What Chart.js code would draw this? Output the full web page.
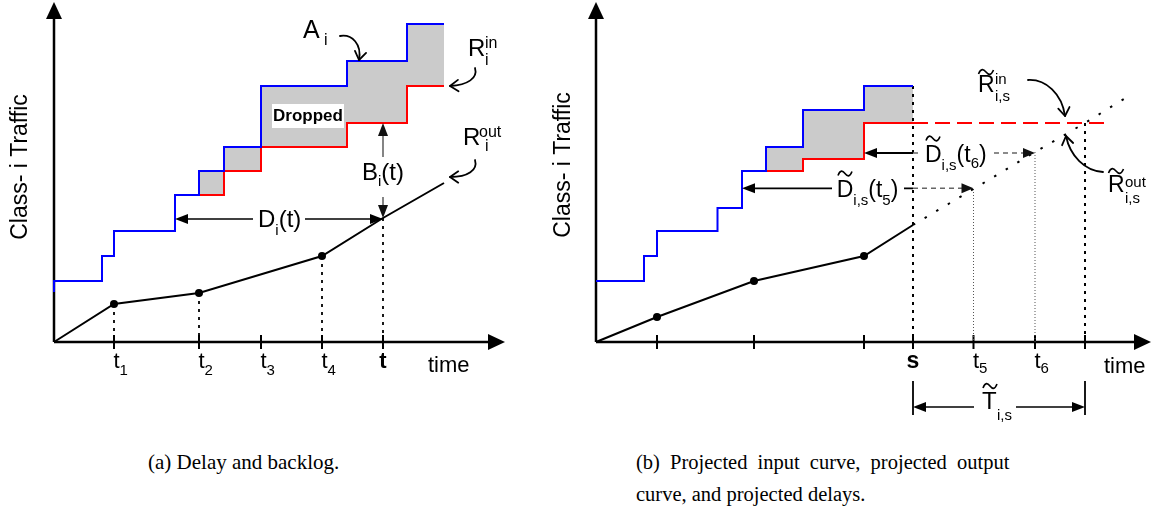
<!DOCTYPE html>
<html>
<head>
<meta charset="utf-8">
<script src="https://cdn.jsdelivr.net/npm/chart.js@4.4.1/dist/chart.umd.min.js"></script>
<style>
html,body{margin:0;padding:0;background:#fff;}
body{width:1155px;height:517px;position:relative;overflow:hidden;}
canvas{position:absolute;top:0;}
#ca{left:0;}
#cb{left:540px;}
.cap{position:absolute;top:446px;font-family:"Liberation Serif","Times New Roman",serif;font-size:21px;line-height:32px;color:#000;white-space:nowrap;}
</style>
</head>
<body>
<canvas id="ca" width="540" height="430"></canvas>
<canvas id="cb" width="615" height="430"></canvas>
<div class="cap" style="left:148px;">(a) Delay and backlog.</div>
<div class="cap" style="left:636px;font-size:20.5px;"><span style="word-spacing:5px;">(b) Projected input curve, projected output</span><br>curve, and projected delays.</div>
<script>
// ---------- panel (a): delay and backlog ----------
const aBlueX = [0, 0, 48, 60, 121, 145, 170, 207, 293, 353, 390];      // A_i (arrivals), step curve
const aBlueY = [50, 61, 86, 111, 147, 171, 195, 256, 281, 318, 318];
const aRedX  = [145, 170, 207, 293, 353, 390];                           // R_i^in, step curve
const aRedY  = [147, 171, 195, 219, 256, 256];
const aOutX  = [0, 60, 145, 268, 329, 390];                              // R_i^out
const aOutY  = [0, 38, 49, 86, 124, 159];
const aTickX = [60, 145, 207, 268, 329];
const aTickLabels = ['t1', 't2', 't3', 't4', 't'];

// ---------- panel (b): projections ----------
const bBlueX = [0, 48, 61, 121.5, 146, 170, 207, 268, 317];
const bBlueY = [61, 86, 111, 134, 171, 195, 232, 256, 256];
const bRedX  = [170, 207, 268, 317];
const bRedY  = [171, 183, 219, 219];
const bRedProjX = [317, 510];
const bRedProjY = [219, 219];
const bOutX  = [0, 61, 158, 268, 317];
const bOutY  = [0, 25, 61, 86, 117];
const bProjX = [317, 377.5, 439, 489, 531];
const bProjY = [117, 153, 190, 219, 245];
const bTickX = [61, 158, 268, 317, 377.5, 439, 489];
const bTickLabels = ['', '', '', 's', 't5', 't6', ''];

const FONT = '"Liberation Sans", Arial, Helvetica, sans-serif';

function pts(xs, ys) { return xs.map((x, i) => ({x: x, y: ys[i]})); }
function expandSteps(xs, ys) {
  const out = [{x: xs[0], y: ys[0]}];
  for (let i = 1; i < xs.length; i++) out.push({x: xs[i], y: ys[i - 1]}, {x: xs[i], y: ys[i]});
  return out;
}
function backlogShape(topX, topY, botX, botY) {
  const x0 = botX[0];
  const top = expandSteps(topX, topY).filter(p => p.x >= x0);
  const bot = expandSteps(botX, botY).reverse();
  return top.concat(bot);
}
function line(points, o) {
  return Object.assign({data: points, showLine: true, pointRadius: 0, pointHoverRadius: 0,
    borderColor: '#000', borderWidth: 2, backgroundColor: '#000', fill: false, tension: 0, order: 3}, o);
}
function vline(x, y0, y1, o) { return line([{x: x, y: y0}, {x: x, y: y1}], o); }

// ---------- drawing helpers (all positions through the chart scales) ----------
function seg(ctx, P, x1, y1, x2, y2, color, w, dash) {
  const a = P(x1, y1), b = P(x2, y2);
  ctx.save(); ctx.strokeStyle = color || '#000'; ctx.lineWidth = w || 2; ctx.setLineDash(dash || []);
  ctx.beginPath(); ctx.moveTo(a[0], a[1]); ctx.lineTo(b[0], b[1]); ctx.stroke(); ctx.restore();
}
function head(ctx, P, x, y, dir, len, half, color) {
  len = len || 13; half = half || 5;
  const p = P(x, y), c = Math.cos(dir), s = Math.sin(dir);
  ctx.save(); ctx.fillStyle = color || '#000'; ctx.beginPath();
  ctx.moveTo(p[0], p[1]);
  ctx.lineTo(p[0] - len * c - half * s, p[1] - len * s + half * c);
  ctx.lineTo(p[0] - len * c + half * s, p[1] - len * s - half * c);
  ctx.closePath(); ctx.fill(); ctx.restore();
}
function curveArrow(ctx, P, c) {
  const q = c.map(p => P(p[0], p[1]));
  ctx.save(); ctx.strokeStyle = '#000'; ctx.lineWidth = 1.8; ctx.lineCap = 'round'; ctx.lineJoin = 'round';
  ctx.beginPath(); ctx.moveTo(q[0][0], q[0][1]);
  ctx.bezierCurveTo(q[1][0], q[1][1], q[2][0], q[2][1], q[3][0], q[3][1]); ctx.stroke();
  const ang = Math.atan2(q[3][1] - q[2][1], q[3][0] - q[2][0]), len = 10, spr = 0.6;
  ctx.beginPath();
  ctx.moveTo(q[3][0] - len * Math.cos(ang - spr), q[3][1] - len * Math.sin(ang - spr));
  ctx.lineTo(q[3][0], q[3][1]);
  ctx.lineTo(q[3][0] - len * Math.cos(ang + spr), q[3][1] - len * Math.sin(ang + spr));
  ctx.stroke(); ctx.restore();
}
function text(ctx, P, x, y, s, size, o) {
  o = o || {};
  const p = P(x, y);
  ctx.save(); ctx.font = (o.bold ? 'bold ' : '') + size + 'px ' + FONT; ctx.fillStyle = '#000';
  ctx.textAlign = o.align || 'left'; ctx.textBaseline = o.base || 'alphabetic';
  ctx.fillText(s, p[0], p[1]); ctx.restore();
}
function seqText(ctx, P, x, y, parts) {
  const p = P(x, y); let px = p[0];
  ctx.save(); ctx.fillStyle = '#000'; ctx.textAlign = 'left'; ctx.textBaseline = 'alphabetic';
  for (const part of parts) {
    ctx.font = (part[3] ? 'bold ' : '') + part[1] + 'px ' + FONT;
    ctx.fillText(part[0], px, p[1] + (part[2] || 0));
    px += ctx.measureText(part[0]).width;
  }
  ctx.restore();
}
function tilde(ctx, P, x, y, w) {
  w = w || 14;
  const p = P(x, y), cx = p[0], cy = p[1];
  ctx.save(); ctx.strokeStyle = '#000'; ctx.lineWidth = 1.6; ctx.beginPath();
  ctx.moveTo(cx - w / 2, cy + 2);
  ctx.bezierCurveTo(cx - w / 3, cy - 4, cx - w / 6, cy - 3, cx, cy);
  ctx.bezierCurveTo(cx + w / 6, cy + 3, cx + w / 3, cy + 4, cx + w / 2, cy - 2);
  ctx.stroke(); ctx.restore();
}
function whiteRect(ctx, P, x1, y1, x2, y2) {
  const a = P(x1, y1), b = P(x2, y2);
  ctx.save(); ctx.fillStyle = '#fff';
  ctx.fillRect(Math.min(a[0], b[0]), Math.min(a[1], b[1]), Math.abs(b[0] - a[0]), Math.abs(b[1] - a[1]));
  ctx.restore();
}
function vText(ctx, P, x, y, s, size) {
  const p = P(x, y);
  ctx.save(); ctx.translate(p[0], p[1]); ctx.rotate(-Math.PI / 2);
  ctx.font = size + 'px ' + FONT; ctx.textAlign = 'center'; ctx.fillStyle = '#000';
  ctx.fillText(s, 0, 0); ctx.restore();
}
function axes(ctx, P, xTip, yTip, ticks) {
  seg(ctx, P, 0, 0, xTip - 12, 0, '#000', 2.5);
  head(ctx, P, xTip, 0, 0, 17, 8);
  seg(ctx, P, 0, 0, 0, yTip - 12, '#000', 2.5);
  head(ctx, P, 0, yTip, -Math.PI / 2, 17, 8);
  ctx.save(); ctx.strokeStyle = '#000'; ctx.lineWidth = 2;
  ticks.forEach(x => { const p = P(x, 0); ctx.beginPath(); ctx.moveTo(p[0], p[1] - 7); ctx.lineTo(p[0], p[1] + 7); ctx.stroke(); });
  ctx.restore();
}
function tickLabels(ctx, P, xs, labels, subDy, boldSize) {
  xs.forEach((x, i) => {
    const lab = labels[i];
    if (!lab) return;
    if (lab.length === 1) text(ctx, P, x, -26, lab, boldSize, {bold: true, align: 'center'});
    else seqText(ctx, P, x - 0.5, -26, [['t', 22], [lab.slice(1), 15, subDy]]);
  });
}

function makeChart(id, xmin, xmax, datasets, before, after) {
  return new Chart(document.getElementById(id), {
    type: 'scatter',
    data: {datasets: datasets},
    options: {
      responsive: false, animation: false, devicePixelRatio: 1, events: [],
      layout: {padding: 0},
      plugins: {legend: {display: false}, tooltip: {enabled: false}},
      scales: {
        x: {type: 'linear', display: false, min: xmin, max: xmax},
        y: {type: 'linear', display: false, min: -88, max: 342}
      }
    },
    plugins: [{
      id: 'decor_' + id,
      beforeDatasetsDraw(chart) { draw(chart, before); },
      afterDatasetsDraw(chart) { draw(chart, after); }
    }]
  });
}
function draw(chart, fn) {
  const ctx = chart.ctx, sx = chart.scales.x, sy = chart.scales.y;
  const P = (x, y) => [sx.getPixelForValue(x), sy.getPixelForValue(y)];
  ctx.save(); fn(ctx, P); ctx.restore();
}

// ---------- chart (a) ----------
const aSets = [
  line(pts(aOutX, aOutY), {pointRadius: [0, 4, 4, 4, 0, 0], pointBackgroundColor: '#000', pointBorderWidth: 0, order: 1}),
  line(pts(aBlueX, aBlueY), {borderColor: '#0000ff', stepped: 'before', order: 2}),
  line(pts(aRedX, aRedY), {borderColor: '#ff0000', stepped: 'before', order: 2}),
  line(backlogShape(aBlueX, aBlueY, aRedX, aRedY), {fill: 'shape', backgroundColor: '#cbcbcb', borderColor: 'rgba(0,0,0,0)', borderWidth: 0, order: 9})
];
for (let i = 1; i <= 4; i++) aSets.push(vline(aOutX[i], aOutY[i], 0, {borderDash: [3, 5], borderWidth: 1.8, order: 5}));

makeChart('ca', -54, 486, aSets,
  (ctx, P) => { axes(ctx, P, 451, 340, aTickX); },
  (ctx, P) => {
    // Dropped box
    whiteRect(ctx, P, 218, 238, 290, 214);
    text(ctx, P, 254, 226, 'Dropped', 17, {bold: true, align: 'center', base: 'middle'});
    // A_i
    text(ctx, P, 249, 304, 'A', 25);
    text(ctx, P, 270, 297, 'i', 16);
    curveArrow(ctx, P, [[286, 306], [298, 308], [308, 298], [305, 282]]);
    // R_i^in
    text(ctx, P, 414, 286, 'R', 24); text(ctx, P, 431, 294, 'in', 16); text(ctx, P, 431, 277, 'i', 16);
    curveArrow(ctx, P, [[421, 274], [424, 264], [414, 257], [396, 256]]);
    // R_i^out
    text(ctx, P, 409, 197, 'R', 24); text(ctx, P, 425, 205, 'out', 16); text(ctx, P, 431, 191, 'i', 16);
    curveArrow(ctx, P, [[421, 182], [424, 172], [414, 165], [396, 165]]);
    // B_i(t)
    const xt = aTickX[4];
    seg(ctx, P, xt, aOutY[4] + 6, xt, aRedY[3] - 6, '#666', 1.6);
    head(ctx, P, xt, aRedY[3], -Math.PI / 2, 13, 5, '#111');
    head(ctx, P, xt, aOutY[4], Math.PI / 2, 13, 5, '#111');
    whiteRect(ctx, P, 303, 185, 354, 145);
    seqText(ctx, P, 308, 162.5, [['B', 24], ['i', 15, 6.5], ['(t)', 24]]);
    // D_i(t)
    const yd = 123;
    seg(ctx, P, aBlueX[4] + 6, yd, xt - 6, yd, '#000', 1.6);
    head(ctx, P, aBlueX[4], yd, Math.PI, 13, 5);
    head(ctx, P, xt, yd, 0, 13, 5);
    whiteRect(ctx, P, 199, 136, 251, 102);
    seqText(ctx, P, 204, 115.3, [['D', 24], ['i', 15, 8], ['(t)', 24]]);
    // axis texts
    tickLabels(ctx, P, aTickX, aTickLabels, 7, 22);
    text(ctx, P, 374, -30, 'time', 22);
    vText(ctx, P, -27, 175, 'Class- i Traffic', 23);
  });

// ---------- chart (b) ----------
const bSets = [
  line(pts(bOutX, bOutY), {pointRadius: [0, 4, 4, 4, 0], pointBackgroundColor: '#000', pointBorderWidth: 0, order: 1}),
  line(pts(bProjX, bProjY), {borderDash: [2.5, 11], borderWidth: 2, order: 1}),
  line(pts(bBlueX, bBlueY), {borderColor: '#0000ff', stepped: 'before', order: 2}),
  line(pts(bRedX, bRedY), {borderColor: '#ff0000', stepped: 'before', order: 2}),
  line(pts(bRedProjX, bRedProjY), {borderColor: '#ff0000', borderDash: [15, 7], order: 2}),
  line(backlogShape(bBlueX, bBlueY, bRedX, bRedY), {fill: 'shape', backgroundColor: '#cbcbcb', borderColor: 'rgba(0,0,0,0)', borderWidth: 0, order: 9}),
  vline(bTickX[3], bBlueY[bBlueY.length - 1], 0, {borderDash: [3, 5], borderWidth: 2, order: 5}),
  vline(bProjX[3], bProjY[3], 0, {borderDash: [3, 5], borderWidth: 2, order: 5}),
  vline(bProjX[1], bProjY[1], 0, {borderDash: [1, 2], borderWidth: 1, borderColor: '#555', order: 5}),
  vline(bProjX[2], bProjY[2], 0, {borderDash: [1, 2], borderWidth: 1, borderColor: '#555', order: 5})
];

makeChart('cb', -56, 559, bSets,
  (ctx, P) => { axes(ctx, P, 555, 340, bTickX); },
  (ctx, P) => {
    const s = bTickX[3];
    // D~(t6)
    const y6 = 189;
    seg(ctx, P, bRedX[2] + 6, y6, s, y6, '#000', 1.8);
    seg(ctx, P, s, y6, bProjX[2] - 8, y6, '#666', 1.6, [5, 4]);
    head(ctx, P, bRedX[2], y6, Math.PI, 13, 5);
    head(ctx, P, bProjX[2], y6, 0, 12, 5, '#111');
    whiteRect(ctx, P, 325, 209, 394, 169);
    seqText(ctx, P, 329, 180.3, [['D', 23], ['i,s', 15, 8], ['(t', 23], ['6', 15, 6], [')', 23]]);
    tilde(ctx, P, 337, 203.5, 14);
    // D~(t5)
    const y5 = 153.7;
    seg(ctx, P, bBlueX[4] + 6, y5, s, y5, '#000', 1.8);
    seg(ctx, P, s, y5, bProjX[1] - 8, y5, '#666', 1.6, [5, 4]);
    head(ctx, P, bBlueX[4], y5, Math.PI, 13, 5);
    head(ctx, P, bProjX[1], y5, 0, 12, 5, '#111');
    whiteRect(ctx, P, 236, 176, 308, 132);
    seqText(ctx, P, 240.7, 145.3, [['D', 23], ['i,s', 15, 8], ['(t', 23], ['5', 15, 8], [')', 23]]);
    tilde(ctx, P, 249, 168.5, 14);
    // R~in
    text(ctx, P, 382, 250, 'R', 23); text(ctx, P, 399, 258, 'in', 15); text(ctx, P, 399, 241, 'i,s', 15);
    tilde(ctx, P, 390, 270, 15);
    curveArrow(ctx, P, [[432, 262], [450, 263], [466, 248], [469, 226]]);
    // R~out
    text(ctx, P, 512, 150, 'R', 23); text(ctx, P, 529, 155, 'out', 15); text(ctx, P, 529, 139, 'i,s', 15);
    tilde(ctx, P, 520, 171, 15);
    curveArrow(ctx, P, [[507, 170], [489, 171], [474, 186], [470, 206]]);
    // T~ bracket
    const te = bProjX[3];
    seg(ctx, P, s, -39, s, -73, '#000', 1.8);
    seg(ctx, P, te, -39, te, -73, '#000', 1.8);
    seg(ctx, P, s + 6, -65, te - 6, -65, '#000', 1.6);
    head(ctx, P, s, -65, Math.PI, 13, 5);
    head(ctx, P, te, -65, 0, 13, 5);
    whiteRect(ctx, P, 378, -40, 420, -86);
    text(ctx, P, 386, -67, 'T', 24);
    tilde(ctx, P, 394, -44, 14);
    text(ctx, P, 401, -78, 'i,s', 15);
    // axis texts
    tickLabels(ctx, P, bTickX, bTickLabels, 5, 23);
    text(ctx, P, 508, -31, 'time', 22);
    vText(ctx, P, -26, 177, 'Class- i Traffic', 23);
  });
</script>
</body>
</html>
